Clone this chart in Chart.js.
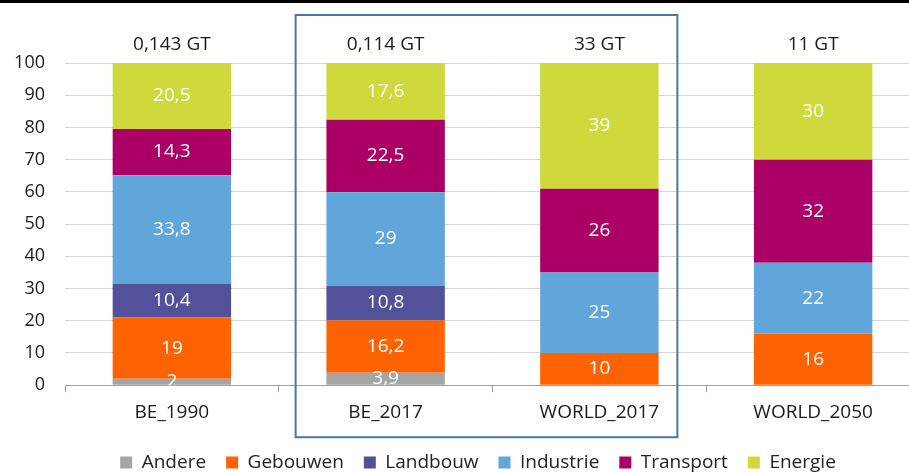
<!DOCTYPE html>
<html>
<head>
<meta charset="utf-8">
<script src="https://cdn.jsdelivr.net/npm/chart.js@4"></script>
<style>
  html, body { margin: 0; padding: 0; background: #fff; overflow: hidden; }
  #wrap { position: relative; width: 920px; height: 473px; }
  #topline { position: absolute; left: 0; top: 0; width: 909px; height: 3px; background: #000; }
</style>
</head>
<body>
<div id="wrap">
  <canvas id="myChart"></canvas>
  <div id="topline"></div>
</div>
<script>
// Categorieën en totalen
const labels = ["BE_1990", "BE_2017", "WORLD_2017", "WORLD_2050"];
const totals = ["0,143 GT", "0,114 GT", "33 GT", "11 GT"];

// Aandeel per sector (%)
const andere    = [2,    3.9,  0,  0];
const gebouwen  = [19,   16.2, 10, 16];
const landbouw  = [10.4, 10.8, 0,  0];
const industrie = [33.8, 29,   25, 22];
const transport = [14.3, 22.5, 26, 32];
const energie   = [20.5, 17.6, 39, 30];

const yTicks = [0, 10, 20, 30, 40, 50, 60, 70, 80, 90, 100];

const FONT = "'Open Sans', sans-serif";

function ds(label, color, data) {
  return {
    label: label,
    backgroundColor: color,
    borderWidth: 0,
    data: data,
    barPercentage: 1,
    categoryPercentage: 0.554
  };
}

const data = {
  labels: labels,
  datasets: [
    ds("Andere", "#a5a5a5", andere),
    ds("Gebouwen", "#ff6200", gebouwen),
    ds("Landbouw", "#525199", landbouw),
    ds("Industrie", "#60a6da", industrie),
    ds("Transport", "#ab0066", transport),
    ds("Energie", "#d0d93c", energie)
  ]
};

// waarden in de balken + totalen erboven + kader rond 2017
const labelPlugin = {
  id: "labelPlugin",
  afterLayout(chart) {
    // legende iets naar rechts, zoals in het origineel
    chart.legend.left += 18;
    chart.legend.right += 18;
  },
  afterDatasetsDraw(chart) {
    const ctx = chart.ctx;
    const area = chart.chartArea;
    const x = chart.scales.x;
    const y = chart.scales.y;

    ctx.save();
    ctx.beginPath();
    ctx.rect(area.left, area.top, area.right - area.left, area.bottom - area.top);
    ctx.clip();
    ctx.font = "19px " + FONT;
    ctx.fillStyle = "#fff";
    ctx.textAlign = "center";
    ctx.textBaseline = "middle";
    chart.data.datasets.forEach((d, i) => {
      const meta = chart.getDatasetMeta(i);
      meta.data.forEach((bar, j) => {
        const v = d.data[j];
        if (!v) return;
        const txt = String(v).replace(".", ",");
        ctx.fillText(txt, bar.x, (bar.y + bar.base) / 2);
      });
    });
    ctx.restore();

    ctx.save();
    ctx.font = "19px " + FONT;
    ctx.fillStyle = "#1a1a1a";
    ctx.textAlign = "center";
    ctx.textBaseline = "middle";
    totals.forEach((t, j) => {
      ctx.fillText(t, x.getPixelForValue(j), y.getPixelForValue(100) - 18);
    });

    ctx.strokeStyle = "#4a76a6";
    ctx.lineWidth = 2;
    const l = x.getPixelForValue(1) - 90;
    const r = x.getPixelForValue(2) + 78;
    ctx.strokeRect(l, area.top - 48, r - l, area.bottom - area.top + 100);
    ctx.restore();
  }
};

const config = {
  type: "bar",
  data: data,
  options: {
    responsive: true,
    maintainAspectRatio: false,
    animation: false,
    layout: {
      padding: { top: 63, left: 0, right: 0, bottom: -9 }
    },
    plugins: {
      legend: {
        position: "bottom",
        labels: {
          font: { family: FONT, size: 19 },
          color: "#222",
          boxWidth: 12,
          boxHeight: 12,
          padding: 20
        }
      },
      tooltip: { enabled: false }
    },
    scales: {
      x: {
        stacked: true,
        grid: {
          offset: true,
          drawOnChartArea: false,
          drawTicks: true,
          tickLength: 7,
          color: "#a0a0a0"
        },
        border: { color: "#a0a0a0", width: 1 },
        ticks: {
          font: { family: FONT, size: 19 },
          color: "#1a1a1a",
          padding: 9
        }
      },
      y: {
        stacked: true,
        min: 0,
        max: 100,
        afterBuildTicks(scale) {
          scale.ticks = yTicks.map(v => ({ value: v }));
        },
        afterFit(scale) {
          scale.width = 65;
        },
        grid: {
          color: "#d4d4d4",
          drawTicks: false
        },
        border: { display: false },
        ticks: {
          font: { family: FONT, size: 18 },
          color: "#1a1a1a",
          padding: 20
        }
      }
    }
  },
  plugins: [labelPlugin]
};

const myChart = new Chart(document.getElementById("myChart"), config);
</script>
</body>
</html>
